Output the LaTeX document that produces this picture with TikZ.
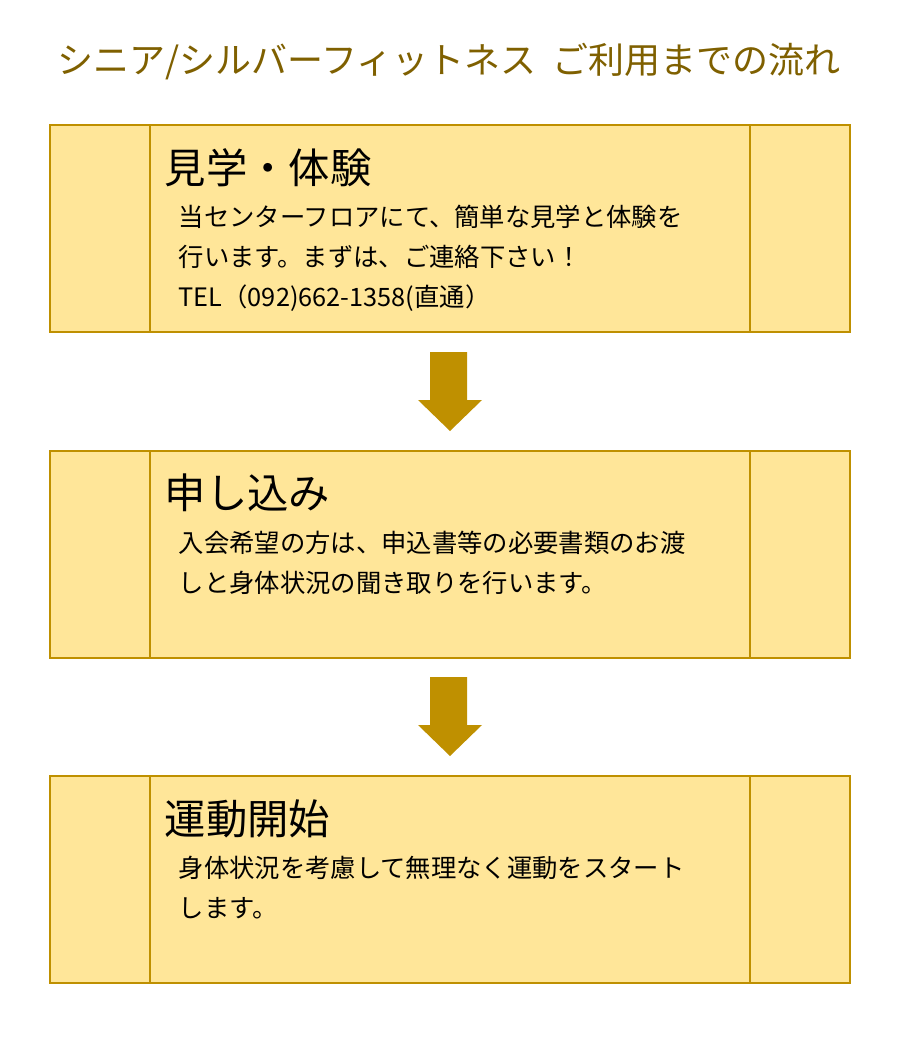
\documentclass[tikz,border=0pt]{standalone}
\usepackage{fontspec}
\setmainfont{Noto Sans CJK JP}
\definecolor{boxfill}{HTML}{FFE699}
\definecolor{boxline}{HTML}{BF9000}
\definecolor{titlecol}{HTML}{7F6000}
\tikzset{
  stepbox/.style={draw=boxline, fill=boxfill, line width=0.8pt},
  heading/.style={anchor=west, font=\fontsize{31}{36}\selectfont},
  bodytext/.style={anchor=north west, align=left, font=\fontsize{19}{30}\selectfont},
  downarrow/.style={fill=boxline}
}
\begin{document}
\begin{tikzpicture}[x=0.75pt, y=-0.75pt]
        \useasboundingbox (0,0) rectangle (900,1040);
        % Title
        \node[titlecol, font=\fontsize{27}{32}\selectfont] (title) at (449, 62) {シニア/シルバーフィットネス\ \ ご利用までの流れ};

        % Three steps
        \foreach \y/\name in {125/one, 451/two, 776/three} {
          \draw[stepbox] (50, \y) rectangle (850, \y+207);
          \draw[boxline, line width=0.8pt] (150, \y) -- (150, \y+207);
          \draw[boxline, line width=0.8pt] (750, \y) -- (750, \y+207);
        }

        % Arrows between the steps
        \foreach \y in {352, 677} {
          \fill[downarrow] (430, \y) -- (467, \y) -- (467, \y+48) -- (482, \y+48)
            -- (450, \y+79) -- (418, \y+48) -- (430, \y+48) -- cycle;
        }

        % Texts
        \node[heading] (headone) at (160, 168) {見学・体験};
        \node[bodytext] (bodyone) at (174, 200) {当センターフロアにて、簡単な見学と体験を\\行います。まずは、ご連絡下さい！\\TEL（092)662-1358(直通）};
        \node[heading] (headtwo) at (160, 493) {申し込み};
        \node[bodytext] (bodytwo) at (174, 526) {入会希望の方は、申込書等の必要書類のお渡\\しと身体状況の聞き取りを行います。};
        \node[heading] (headthree) at (160, 819) {運動開始};
        \node[bodytext] (bodythree) at (174, 851) {身体状況を考慮して無理なく運動をスタート\\します。};
    \end{tikzpicture}
\end{document}
